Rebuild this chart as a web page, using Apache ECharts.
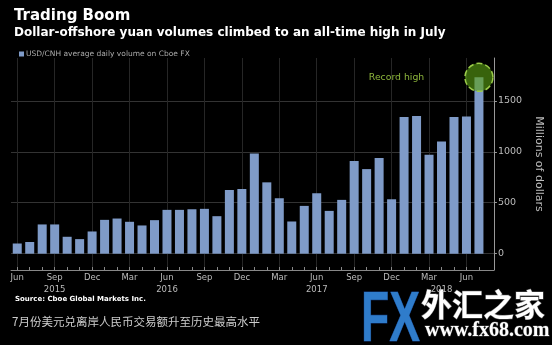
<!DOCTYPE html>
<html>
<head>
<meta charset="utf-8">
<script src="https://cdn.jsdelivr.net/npm/echarts@6/dist/echarts.min.js"></script>
<style>html,body{margin:0;padding:0;background:#000;}#c{width:552px;height:345px;}</style>
</head>
<body>
<div id="c"></div>
<script>
// ---- data ----
const months = ['Jun 2015','Jul 2015','Aug 2015','Sep 2015','Oct 2015','Nov 2015','Dec 2015',
  'Jan 2016','Feb 2016','Mar 2016','Apr 2016','May 2016','Jun 2016','Jul 2016','Aug 2016','Sep 2016','Oct 2016','Nov 2016','Dec 2016',
  'Jan 2017','Feb 2017','Mar 2017','Apr 2017','May 2017','Jun 2017','Jul 2017','Aug 2017','Sep 2017','Oct 2017','Nov 2017','Dec 2017',
  'Jan 2018','Feb 2018','Mar 2018','Apr 2018','May 2018','Jun 2018','Jul 2018'];
const volumes = [100,115,287,287,166,143,218,
  332,345,313,277,329,430,430,436,440,368,625,635,
  984,700,544,316,469,593,420,528,909,830,938,534,
  1340,1350,970,1100,1340,1345,1730];
const monthTickIdx = [0,3,6,9,12,15,18,21,24,27,30,33,36];
const monthTickLabels = ['Jun','Sep','Dec','Mar','Jun','Sep','Dec','Mar','Jun','Sep','Dec','Mar','Jun'];
const yearTickIdx = [3,12,24,34];
const yearTickLabels = ['2015','2016','2017','2018'];
const yTicks = [0,500,1000,1500];
const recordIdx = 37;

const chart = echarts.init(document.getElementById('c'));
const font = 'DejaVu Sans';
const allMonthIdx = months.map((m,i)=>i);
const labelVals = monthTickIdx.concat([34]);

chart.setOption({
  backgroundColor: '#000',
  animation: false,
  title: {
    text: 'Trading Boom',
    subtext: 'Dollar-offshore yuan volumes climbed to an all-time high in July',
    left: 9, top: 4, itemGap: 3,
    textStyle: {color:'#fff', fontSize:15, fontWeight:'bold', fontFamily:font},
    subtextStyle: {color:'#fff', fontSize:12, fontWeight:'bold', fontFamily:font}
  },
  legend: {
    left: 14, top: 45, icon: 'rect', itemWidth: 5, itemHeight: 5, itemGap: 2,
    textStyle: {color:'#aaa', fontSize:7.5, fontFamily:font, padding:[0,0,0,-3]},
    data: ['USD/CNH average daily volume on Cboe FX']
  },
  grid: {left: 11, right: 52, top: 58, bottom: 75, containLabel: false},
  xAxis: [{
    type: 'value', min: -0.5, max: 38.2,
    axisLine: {show:false, onZero:false},
    axisTick: {show:false, customValues: monthTickIdx},
    splitLine: {show:true, lineStyle:{color:'#262626', width:1}},
    axisLabel: {
      customValues: labelVals, color:'#bbb', fontSize:8.5, fontFamily:font, margin:2, lineHeight:12,
      formatter: function(v){
        const mi = monthTickIdx.indexOf(v), yi = yearTickIdx.indexOf(v);
        let s = mi >= 0 ? monthTickLabels[mi] : '';
        if (yi >= 0) s += '\n' + yearTickLabels[yi];
        return s;
      }
    }
  },{
    type: 'value', min: -0.5, max: 38.2, position: 'bottom',
    axisLine: {show:true, onZero:false, lineStyle:{color:'#888', width:1}},
    axisTick: {show:true, inside:true, length:3, customValues: allMonthIdx, lineStyle:{color:'#888'}},
    axisLabel: {show:false},
    splitLine: {show:false}
  }],
  yAxis: {
    type: 'value', position: 'right', min: -160, max: 1920,
    axisLine: {show:true, onZero:false, lineStyle:{color:'#999', width:1}},
    axisTick: {show:true, length:3, customValues: yTicks, lineStyle:{color:'#999'}},
    axisLabel: {customValues: yTicks, color:'#bbb', fontSize:9.5, fontFamily:font, margin:4,
      formatter: function(v){ return String(v); }},
    splitLine: {show:true, lineStyle:{color:'#333', width:1}},
    name: 'Millions of dollars', nameLocation: 'middle', nameRotate: -90, nameGap: 33,
    nameTextStyle: {color:'#bbb', fontSize:11, fontFamily:font}
  },
  series: [{
    name: 'USD/CNH average daily volume on Cboe FX',
    type: 'bar', xAxisIndex: 0, barWidth: 9,
    itemStyle: {color:'#7f9bc8'},
    data: volumes.map((v,i)=>[i,v]),
    markPoint: {
      symbol: 'circle', symbolSize: 28,
      itemStyle: {color:'rgba(90,160,20,0.62)', borderColor:'#9ccc4a', borderWidth:1.5, borderType:'dashed'},
      label: {show:true, formatter:'Record high', position:'left', distance:40, color:'#8db53c', fontSize:9.3, fontFamily:font},
      data: [{coord:[recordIdx, volumes[recordIdx]]}]
    }
  }],
  graphic: [
    {type:'text', left:15, top:296, style:{text:'Source: Cboe Global Markets Inc.', fill:'#fff', font:'bold 7px "DejaVu Sans"'}},
    {type:'text', left:12, top:316, style:{text:'7月份美元兑离岸人民币交易额升至历史最高水平', fill:'#ccc', font:'11.5px "Noto Sans CJK SC"'}},
    {type:'text', x:361, y:287, scaleX:0.66, style:{text:'FX', font:'bold 70px "Liberation Sans"',
      fill:'#2f7ccb', stroke:'#123c80', lineWidth:1}},
    {type:'text', x:421, y:289, style:{text:'外汇之家', font:'bold 31px "Noto Sans CJK SC"', fill:'#fff', stroke:'#555', lineWidth:1}},
    {type:'text', x:425, y:321, style:{text:'www.fx68.com', font:'bold 20px "Liberation Serif"', fill:'#fff', stroke:'#444', lineWidth:1}}
  ]
});
</script>
</body>
</html>
